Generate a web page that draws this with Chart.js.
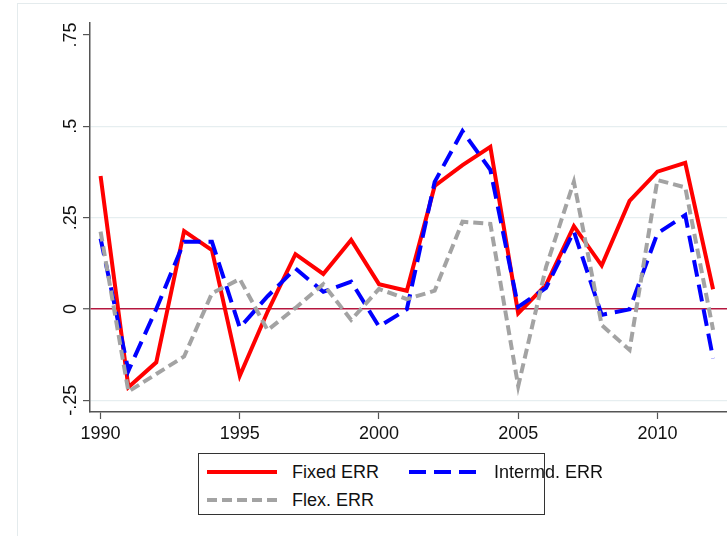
<!DOCTYPE html>
<html>
<head>
<meta charset="utf-8">
<script src="https://cdn.jsdelivr.net/npm/chart.js"></script>
<title>ERR chart</title>
<style>
  body { margin: 0; background: #fff; }
  .wrap { position: relative; width: 727px; height: 536px; overflow: hidden; font-family: "Liberation Sans", Arial, sans-serif; }
  .frame { position: absolute; left: 17px; top: 3px; width: 760px; height: 600px; border: 1px solid #e4ebed; box-sizing: border-box; }
  canvas { position: absolute; left: 0; top: 0; }
  .legend { position: absolute; left: 198px; top: 453px; width: 347px; height: 62px; border: 1px solid #333; box-sizing: border-box; background: #fff; }
  .item { position: absolute; font-size: 18px; color: #111; line-height: 20px; }
  .item svg { position: absolute; left: 0; top: 6px; }
  .item span { position: absolute; white-space: nowrap; }
</style>
</head>
<body>
<div class="wrap">
  <div class="frame"></div>
  <canvas id="chart1" width="727" height="536"></canvas>
  <div class="legend" id="legend"></div>
</div>

<script>
// values
var years = [1990,1991,1992,1993,1994,1995,1996,1997,1998,1999,2000,2001,2002,2003,2004,2005,2006,2007,2008,2009,2010,2011,2012]
var fixed_err = [0.364,-0.214,-0.146,0.213,0.161,-0.183,-0.007,0.150,0.096,0.189,0.068,0.050,0.337,0.394,0.444,-0.012,0.066,0.227,0.119,0.296,0.376,0.400,0.054]
var interm_err = [0.193,-0.169,0.000,0.184,0.184,-0.051,0.035,0.111,0.047,0.075,-0.048,-0.001,0.348,0.487,0.381,0.006,0.058,0.212,-0.016,-0.001,0.207,0.257,-0.135]
var flex_err = [0.212,-0.226,-0.178,-0.130,0.043,0.082,-0.058,0.003,0.068,-0.030,0.055,0.027,0.050,0.239,0.233,-0.211,0.115,0.348,-0.044,-0.112,0.353,0.333,-0.057]

var x_ticks = [1990,1995,2000,2005,2010]
var y_ticks = [-0.25,0,0.25,0.5,0.75]
var y_labels = ['-.25','0','.25','.5','.75']

var series = [
  {label: 'Fixed ERR', data: fixed_err, color: '#ff0000', dash: []},
  {label: 'Intermd. ERR', data: interm_err, color: '#0000ff', dash: [17, 8]},
  {label: 'Flex. ERR', data: flex_err, color: '#a3a3a3', dash: [10, 5]}
]

function points(vals){
  var out = []
  for (let i = 0; i < years.length; i++) out.push({x: years[i], y: vals[i]})
  return out
}

var datasets = series.map(s => ({
  label: s.label, data: points(s.data), borderColor: s.color, borderWidth: 4,
  borderDash: s.dash, pointRadius: 0, tension: 0, fill: false, borderJoinStyle: 'miter'
}))
// draw order: gray under blue under red
datasets.reverse()

// rotated y labels like the original
var yLabelPlugin = {
  id: 'ylabels',
  afterDraw(chart){
    var sc = chart.scales.y, ctx = chart.ctx
    ctx.save()
    ctx.fillStyle = '#111'
    ctx.font = '18px "Liberation Sans", Arial, sans-serif'
    ctx.textAlign = 'center'
    ctx.textBaseline = 'alphabetic'
    for (let i = 0; i < y_ticks.length; i++) {
      let y = sc.getPixelForValue(y_ticks[i])
      ctx.save()
      ctx.translate(76, y)
      ctx.rotate(-Math.PI / 2)
      ctx.fillText(y_labels[i], 0, 0)
      ctx.restore()
    }
    ctx.restore()
  }
}

var ctx = document.getElementById('chart1').getContext('2d')
var chart1 = new Chart(ctx, {
  type: 'line',
  data: {datasets: datasets},
  plugins: [yLabelPlugin],
  options: {
    responsive: false, animation: false,
    layout: {padding: {top: 23, left: 0, right: 0, bottom: 0}},
    plugins: {legend: {display: false}, tooltip: {enabled: false}},
    scales: {
      x: {
        type: 'linear', min: 1989.62, max: 2012.5,
        afterBuildTicks: s => { s.ticks = x_ticks.map(v => ({value: v})) },
        afterFit: s => { s.height = 124 },
        ticks: {color: '#111', font: {size: 18, family: '"Liberation Sans", Arial, sans-serif'}, padding: 4, maxRotation: 0,
                callback: v => String(v)},
        grid: {drawOnChartArea: false, tickLength: 7, tickColor: '#555', tickWidth: 1.2},
        border: {color: '#555', width: 1.5}
      },
      y: {
        type: 'linear', min: -0.282, max: 0.783,
        afterBuildTicks: s => { s.ticks = y_ticks.map(v => ({value: v})) },
        afterFit: s => { s.width = 90 },
        ticks: {display: false},
        grid: {
          tickLength: 7, tickColor: '#555', tickWidth: 1.2,
          color: c => c.tick && c.tick.value == 0 ? '#b5173f' : (c.tick && c.tick.value == 0.75 ? 'rgba(0,0,0,0)' : '#e6eef0'),
          lineWidth: c => c.tick && c.tick.value == 0 ? 1.5 : 1.2
        },
        border: {color: '#555', width: 1.5}
      }
    }
  }
})

// html legend
var legendPos = [[8, 8], [210, 8], [8, 36]]
var box = document.getElementById('legend')
series.forEach((s, i) => {
  let d = document.createElement('div')
  d.className = 'item'
  d.style.left = legendPos[i][0] + 'px'
  d.style.top = legendPos[i][1] + 'px'
  d.innerHTML = '<svg width="70" height="8"><line x1="0" y1="4" x2="70" y2="4" stroke="' + s.color +
    '" stroke-width="4" stroke-dasharray="' + (s.dash.length ? s.dash.join(' ') : 'none') + '"/></svg>' +
    '<span style="left:85px;top:0">' + s.label + '</span>'
  box.appendChild(d)
})
</script>
</body>
</html>
